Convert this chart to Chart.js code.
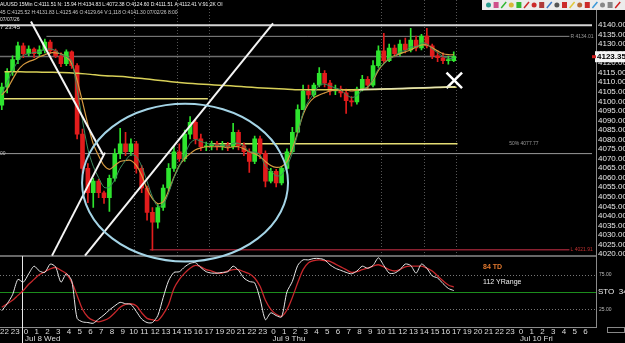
<!DOCTYPE html>
<html>
<head>
<meta charset="utf-8">
<script src="https://cdn.jsdelivr.net/npm/chart.js@4.4.1/dist/chart.umd.min.js"></script>
<style>
  html, body { margin: 0; padding: 0; background: #000; }
  #wrap { position: relative; width: 625px; height: 343px; }
</style>
</head>
<body>
<div id="wrap"><canvas id="myChart" width="625" height="343"></canvas></div>
<script>
// time axis: one slot per trading hour (18:00 is closed), 0 = Jul 8 00:00
const hourLabels = ['22','23','0','1','2','3','4','5','6','7','8','9','10','11','12','13','14','15','16','17','19','20','21','22','23',
    '0','1','2','3','4','5','6','7','8','9','10','11','12','13','14','15','16','17','19','20','21','22','23','0','1','2','3','4','5','6'];
const firstHourSlot = -2;
const dateLabels = ['Jul 8 Wed', 'Jul 9 Thu', 'Jul 10 Fri'];
const dateSlots = [0, 23, 46];
const priceTicks = [4020, 4025, 4030, 4035, 4040, 4045, 4050, 4055, 4060, 4065, 4070, 4075, 4080,
    4085, 4090, 4095, 4100, 4105, 4110, 4115, 4120, 4125, 4130, 4135, 4140];

// candles, one every half hour starting Jul 7 21:45
const firstCandleSlot = -2.25;
const candleStep = 0.5;
const opens = [4098, 4107.5, 4115.6, 4121.8, 4129, 4124.9, 4127.4, 4124.9, 4126.9, 4131, 4126.4, 4123.8, 4119.7, 4125.9, 4118.7,
    4082.8, 4064.9, 4052.1, 4058.2, 4052.1, 4049.5, 4059.7, 4072.6, 4077.7, 4073.6, 4077.7, 4064.9, 4054.6, 4041.8, 4036.7,
    4044.4, 4054.6, 4064.9, 4073.6, 4070, 4082.8, 4089, 4080.3, 4076.2, 4076.7, 4077.7, 4076.2, 4077.2, 4076.2, 4083.8,
    4076.7, 4073.6, 4068.5, 4080.3, 4072.6, 4058.2, 4063.3, 4057.2, 4064.9, 4073.6, 4083.8, 4095.6, 4105.4, 4103.3, 4108.5,
    4114.6, 4109.5, 4105.4, 4106.4, 4104.4, 4100.3, 4099.7, 4106.4, 4111.5, 4108.5, 4118.7, 4126.4, 4121.3, 4127.9, 4124.9,
    4130, 4126.9, 4132, 4128, 4134.1, 4129, 4123.8, 4122.8, 4121.3, 4121.3];
const highs = [4109.5, 4117.2, 4123.8, 4131, 4130.5, 4129, 4128, 4129, 4132.6, 4132, 4127.4, 4125.4, 4126.9, 4126.4, 4119.7,
    4085.4, 4067.4, 4059.7, 4059.2, 4053, 4061.3, 4075.1, 4085.9, 4083.8, 4080.3, 4079, 4066.4, 4055.6, 4044.4, 4045.9,
    4056.2, 4067.4, 4076.7, 4077.7, 4084.9, 4092, 4090, 4082.8, 4078.7, 4079.2, 4079, 4079, 4078.5, 4088.5, 4084.9,
    4078.2, 4075.1, 4081.8, 4081.8, 4074, 4064.9, 4064.4, 4066, 4075.1, 4086.4, 4098.2, 4108.5, 4108.5, 4109.5, 4117.7,
    4116.1, 4111, 4108.5, 4108, 4106.4, 4102.5, 4107.5, 4113.6, 4113, 4121.3, 4129, 4135.6, 4130, 4129.5, 4132,
    4133.1, 4138.2, 4134.1, 4135.1, 4138.2, 4130, 4125.9, 4125.4, 4123.5, 4125.9];
const lows = [4095.6, 4104.4, 4113.6, 4119.7, 4122.8, 4123.8, 4122.8, 4123.8, 4125.4, 4124.9, 4122.8, 4118.2, 4118.7, 4117.2, 4080.3,
    4062.3, 4046.9, 4044.4, 4049.5, 4046.5, 4042.3, 4058.2, 4070, 4071.5, 4071.5, 4062.3, 4052.1, 4037.7, 4022.1, 4033.6,
    4042.8, 4053.1, 4063.3, 4068.5, 4068.5, 4080.3, 4077.7, 4074.1, 4074.1, 4074.6, 4074.6, 4074.6, 4074.1, 4075.1, 4074.6,
    4071.5, 4062.8, 4067.4, 4070, 4055.1, 4057.2, 4055.1, 4056.2, 4064.4, 4072.6, 4083.8, 4095.6, 4101.3, 4102.3, 4107.5,
    4107.5, 4103.3, 4103.5, 4102.3, 4093.6, 4097.5, 4098.5, 4105.4, 4106.5, 4107.5, 4117.7, 4120.3, 4120.8, 4123.3, 4123.8,
    4125.4, 4125.9, 4126.4, 4126.9, 4128, 4122.3, 4120.8, 4119.7, 4119.5, 4120.8];
const closes = [4107.5, 4115.6, 4121.8, 4129, 4124.9, 4127.4, 4124.9, 4126.9, 4131, 4126.4, 4123.8, 4119.7, 4125.9, 4118.7, 4082.8,
    4064.9, 4052.1, 4058.2, 4052.1, 4049.5, 4059.7, 4072.6, 4077.7, 4073.6, 4077.7, 4064.9, 4054.6, 4041.8, 4036.7, 4044.4,
    4054.6, 4064.9, 4073.6, 4070, 4082.8, 4089, 4080.3, 4076.2, 4076.7, 4077.7, 4076.2, 4077.2, 4076.2, 4083.8, 4076.7,
    4073.6, 4068.5, 4080.3, 4072.6, 4058.2, 4063.3, 4057.2, 4064.9, 4073.6, 4083.8, 4095.6, 4105.4, 4103.3, 4108.5, 4114.6,
    4109.5, 4105.4, 4106.4, 4104.4, 4100.3, 4099.7, 4106.4, 4111.5, 4108.5, 4118.7, 4126.4, 4121.3, 4127.9, 4124.9, 4130,
    4126.9, 4132, 4128, 4134.1, 4129, 4123.8, 4122.8, 4121.3, 4121.3, 4123.4];

// moving averages at the candle times
const slowMa = [4103.3, 4106.4, 4111.5, 4116.2, 4119.2, 4120.8, 4121.8, 4123.3, 4124.4, 4125.4, 4125.4, 4124.9, 4123.3, 4119.7, 4111,
    4099.7, 4087.9, 4077.7, 4071.5, 4066.4, 4064.4, 4066.4, 4068.5, 4069, 4069, 4066.4, 4061.3, 4054.1, 4049, 4046.4,
    4047.4, 4053.1, 4060.3, 4066.4, 4070, 4072.6, 4074.6, 4075.6, 4076.2, 4076.2, 4076.2, 4076.2, 4075.6, 4076.2, 4076.2,
    4075.1, 4073.6, 4072.6, 4071, 4068.5, 4066.4, 4065.4, 4065.9, 4068.5, 4075.1, 4083.8, 4093.1, 4098.7, 4101.8, 4103.3,
    4104.4, 4105.4, 4105.9, 4105.9, 4105.9, 4105.4, 4105.9, 4106.4, 4107.4, 4111, 4116.2, 4119.7, 4122.3, 4123.8, 4124.9,
    4125.9, 4126.9, 4128.5, 4129.5, 4129.5, 4128, 4126.4, 4124.9, 4124.4, 4124.4];
const fastMa = [4104, 4110, 4116, 4121, 4124, 4125, 4125.5, 4126, 4127, 4127.5, 4126.5, 4124.5, 4123.5, 4121, 4106,
    4090, 4075, 4066, 4060, 4055, 4055, 4059, 4065, 4069, 4072, 4071, 4066, 4058, 4050, 4045,
    4046, 4052, 4060, 4066, 4072, 4078, 4080, 4079, 4078, 4077.5, 4077, 4077, 4076.5, 4078, 4078,
    4076.5, 4073.5, 4073.5, 4072, 4066, 4063.5, 4061, 4061.5, 4066, 4073, 4083, 4094, 4100, 4104, 4108.5,
    4109, 4108, 4107, 4106, 4103.5, 4102, 4103, 4106, 4107.5, 4111.5, 4117, 4119.5, 4122.5, 4123.5, 4126,
    4126.5, 4128.5, 4128.5, 4130.5, 4130, 4127.5, 4125.5, 4123.5, 4122.5, 4122.5];
// long average, one value per hour slot from slot -2
const longMa = [4115.5, 4115.5, 4115.4, 4115.3, 4115.2, 4115.1, 4115, 4114.6, 4114.1, 4113.5, 4113.2, 4113, 4112.3, 4111.8, 4111.2,
    4110.6, 4110, 4109.5, 4109.1, 4108.8, 4108.4, 4108.1, 4107.7, 4107.3, 4107, 4106.7, 4106.4, 4106.1, 4106, 4106,
    4106, 4106, 4106, 4106.1, 4106.2, 4106.3, 4106.5, 4106.6, 4106.8, 4107, 4107.2, 4107.3, 4107.4];

// stochastic at the candle times
const stochK = [23, 33, 46, 68, 64, 76, 87, 80, 78, 90, 86, 64, 76, 66, 12, 7, 6, 5, 11, 17, 24, 30, 35, 33, 32, 22, 11, 6, 6, 16,
    42, 66, 78, 79, 86, 91, 92, 85, 79, 77, 77, 78, 79, 87, 81, 70, 65, 63, 40, 10, 20, 16, 14, 50, 65, 88, 96, 96, 98, 98,
    96, 89, 84, 81, 78, 76, 80, 87, 84, 88, 99, 88, 77, 77, 82, 90, 88, 77, 90, 84, 73, 70, 62, 55, 52];
const stochD = [28, 33, 38, 45, 52, 61, 68, 75, 79, 83, 85, 81, 76, 64, 45, 25, 14, 9, 7, 9, 13, 20, 28, 32, 33, 30, 20, 12, 10, 9,
    18, 32, 55, 68, 77, 84, 88, 86, 82, 80, 77, 77, 80, 82, 82, 79, 76, 70, 58, 38, 25, 18, 15, 24, 42, 63, 82, 92, 95, 96,
    95, 94, 90, 86, 82, 78, 79, 82, 84, 87, 89, 86, 82, 80, 82, 86, 87, 87, 87, 84, 80, 73, 66, 60, 57];
const stochLevels = [75, 50, 25];

const lastPrice = 4123.35;
const markerPoint = { slot: 39.8, price: 4111 };

// drawings on the chart, in slot / price units
const levelLines = [
    { price: 4139.8, from: -2.42, to: 52.6, color: '#d4d4d4', width: 2 },
    { price: 4134.01, from: 1.9, to: 50.5, color: '#8a8a8a', width: 1, label: 'R 4134.01', labelColor: '#9a9a9a' },
    { price: 4123.5, from: -2.42, to: 40, color: '#6e6e6e', width: 1.5 },
    { price: 4101.3, from: -2.42, to: 16.9, color: '#e4dc74', width: 1.5 },
    { price: 4077.77, from: 17.1, to: 40.1, color: '#e4dc74', width: 1.5, label: '50% 4077.77', labelColor: '#9a9a9a', labelSlot: 44.9 },
    { price: 4072.6, from: -2.42, to: 52.6, color: '#9a9a9a', width: 1 },
    { price: 4022.2, from: 11.5, to: 50.5, color: '#8a2030', width: 1.5, label: 'L 4021.91', labelColor: '#c03030' }
];
const trendLines = [
    [0.46, 4141.8, 7.16, 4072.05],
    [2.42, 4019.2, 7.34, 4073.1],
    [5.48, 4019.2, 22.96, 4140.8]
];
const paleLine = [30.9, 4106.1, 39.9, 4107.6];
const circle = { slot: 14.78, price: 4057.4, rSlot: 9.57, rPrice: 41.3 };
const dottedSlots = [10, 14, 17, 33, 37, 40];

const upColor = '#2ee52e';
const downColor = '#e21c1c';
const FONT = '"Liberation Sans", Arial, sans-serif';

const candleSlot = i => firstCandleSlot + i * candleStep;
const candleColors = closes.map((c, i) => c >= opens[i] ? upColor : downColor);
const onCandles = arr => arr.map((v, i) => ({ x: candleSlot(i), y: v }));

function strokeLine(c, x1, y1, x2, y2) {
    c.beginPath();
    c.moveTo(x1, y1);
    c.lineTo(x2, y2);
    c.stroke();
}

function text(c, str, x, y, font, color, align) {
    c.font = font;
    c.fillStyle = color;
    c.textAlign = align || 'left';
    c.textBaseline = 'middle';
    c.fillText(str, x, y);
}

const overlay = {
    id: 'overlay',
    beforeDatasetsDraw(chart) {
        const c = chart.ctx;
        const xs = chart.scales.x, ys = chart.scales.y, s2 = chart.scales.y2;
        const panelBottom = s2.getPixelForValue(101.5);
        c.save();

        // vertical dotted lines in the price panel
        c.strokeStyle = '#555';
        c.lineWidth = 1;
        c.setLineDash([1, 2]);
        dottedSlots.forEach(s => {
            const px = Math.round(xs.getPixelForValue(s)) + 0.5;
            strokeLine(c, px, 0, px, panelBottom);
        });

        // stochastic levels
        stochLevels.forEach(v => {
            const py = Math.round(s2.getPixelForValue(v)) + 0.5;
            if (v === 50) {
                c.setLineDash([]);
                c.strokeStyle = '#1c8c1c';
            } else {
                c.setLineDash([1, 2]);
                c.strokeStyle = '#777';
            }
            strokeLine(c, 0, py, 596, py);
        });
        c.setLineDash([]);

        // horizontal levels
        levelLines.forEach(l => {
            c.strokeStyle = l.color;
            c.lineWidth = l.width;
            const py = ys.getPixelForValue(l.price);
            strokeLine(c, xs.getPixelForValue(l.from), py, xs.getPixelForValue(l.to), py);
            if (l.label) {
                const lx = xs.getPixelForValue(l.labelSlot !== undefined ? l.labelSlot : l.to + 0.1);
                text(c, l.label, lx, py, '5px ' + FONT, l.labelColor);
            }
        });

        // panel borders
        c.strokeStyle = '#8a8a8a';
        c.lineWidth = 1.5;
        strokeLine(c, 0, panelBottom, 597, panelBottom);
        c.lineWidth = 1;
        strokeLine(c, 596.5, 0, 596.5, 328);
        strokeLine(c, 0, 327.5, 597, 327.5);
        c.strokeStyle = '#e8e8e8';
        const sep = Math.round(xs.getPixelForValue(-0.4)) + 0.5;
        strokeLine(c, sep, panelBottom, sep, 343);
        c.restore();
    },
    afterDatasetsDraw(chart) {
        const c = chart.ctx;
        const xs = chart.scales.x, ys = chart.scales.y, s2 = chart.scales.y2;
        c.save();

        // trend lines
        c.strokeStyle = '#f4f4f4';
        c.lineWidth = 2;
        trendLines.forEach(t => strokeLine(c, xs.getPixelForValue(t[0]), ys.getPixelForValue(t[1]),
            xs.getPixelForValue(t[2]), ys.getPixelForValue(t[3])));
        c.strokeStyle = '#e6e4b4';
        c.lineWidth = 1.5;
        strokeLine(c, xs.getPixelForValue(paleLine[0]), ys.getPixelForValue(paleLine[1]),
            xs.getPixelForValue(paleLine[2]), ys.getPixelForValue(paleLine[3]));

        // ellipse
        const cx = xs.getPixelForValue(circle.slot);
        const cy = ys.getPixelForValue(circle.price);
        const rx = xs.getPixelForValue(circle.slot + circle.rSlot) - cx;
        const ry = cy - ys.getPixelForValue(circle.price + circle.rPrice);
        c.strokeStyle = '#a4d4e6';
        c.lineWidth = 2;
        c.beginPath();
        c.ellipse(cx, cy, rx, ry, 0, 0, Math.PI * 2);
        c.stroke();

        // stochastic panel texts
        const tx = xs.getPixelForValue(42.47);
        text(c, '84 TD', tx, s2.getPixelForValue(85.4), 'bold 7px ' + FONT, '#e2782e');
        text(c, '112 YRange', tx, s2.getPixelForValue(64.3), '7px ' + FONT, '#f0f0f0');
        text(c, '75.00', 599, s2.getPixelForValue(75), '5px ' + FONT, '#bbb');
        text(c, 'STO  34', 598, s2.getPixelForValue(50), '8px ' + FONT, '#f0f0f0');
        text(c, '25.00', 599, s2.getPixelForValue(25), '5px ' + FONT, '#bbb');

        // left cut-off level label
        text(c, '00', 0, ys.getPixelForValue(4072.6), '5px ' + FONT, '#bbb');

        // header
        text(c, 'AUUSD 15Min C:4111.51 N: 15.94 H:4134.83 L:4072.38 O:4124.60 D:4111.51 A:4112.41 V:91.2K OI',
            0, 5, '5px ' + FONT, '#f2f2f2');
        text(c, '45 C:4125.52 H:4131.83 L:4125.46 O:4129.64 V:1,118 O:4141.30 07/02/26 8:00',
            0, 13, '5px ' + FONT, '#c8c8c8');
        text(c, '07/07/26', 0, 20, '5px ' + FONT, '#e0e0e0');
        text(c, '7 23:45', 0, 27, '6px ' + FONT, '#e0e0e0');

        // dates
        dateLabels.forEach((d, k) => {
            text(c, d, xs.getPixelForValue(dateSlots[k]) - 1, 339, '8px ' + FONT, '#dcdcdc');
        });

        // last price tag
        const lp = ys.getPixelForValue(lastPrice);
        c.fillStyle = '#f4f4f4';
        c.fillRect(595, lp - 5.5, 30, 11);
        c.fillStyle = '#d02020';
        c.fillRect(592, lp - 1.5, 4, 3);
        text(c, lastPrice.toFixed(2), 597, lp, 'bold 8px ' + FONT, '#000');

        // toolbar
        c.fillStyle = '#ececec';
        c.fillRect(482, 0, 143, 10);
        const icons = ['#2a9d8f', '#d0508a', '#33b833', '#d8b83a', '#33b833', '#cc2a2a', '#cc2a2a', '#b03a3a', '#3a78c8',
            '#555', '#cc2a2a', '#e0c83a', '#b86a3a', '#cc2a2a', '#3a98d8', '#888', '#888', '#d02020'];
        icons.forEach((col, k) => {
            const ix = 486 + k * 7.6;
            c.fillStyle = col;
            if (k % 3 === 0) {
                c.beginPath();
                c.arc(ix + 2.5, 5, 2.5, 0, Math.PI * 2);
                c.fill();
            } else if (k % 3 === 1) {
                c.fillRect(ix, 2, 5, 6);
            } else {
                c.strokeStyle = col;
                c.lineWidth = 1.5;
                strokeLine(c, ix, 8, ix + 5, 2);
            }
        });
        c.strokeStyle = '#888';
        c.lineWidth = 1;
        c.strokeRect(607.5, 327.5, 17, 5);
        c.restore();
    }
};

const ctx = document.getElementById('myChart').getContext('2d');

new Chart(ctx, {
    type: 'bar',
    data: {
        datasets: [
            {
                type: 'line', label: 'marker', yAxisID: 'y', order: 0,
                data: [{ x: markerPoint.slot, y: markerPoint.price }],
                showLine: false, pointStyle: 'crossRot', pointRadius: 11,
                pointBorderColor: '#ffffff', pointBorderWidth: 2.5, pointBackgroundColor: '#ffffff'
            },
            {
                type: 'line', label: 'fast', yAxisID: 'y', order: 1, data: onCandles(fastMa),
                borderColor: '#3e8c5e', borderWidth: 1, pointRadius: 0, tension: 0.3
            },
            {
                type: 'line', label: 'slow', yAxisID: 'y', order: 1, data: onCandles(slowMa),
                borderColor: '#d69a40', borderWidth: 1.2, pointRadius: 0, tension: 0.3
            },
            {
                type: 'line', label: 'long', yAxisID: 'y', order: 1,
                data: longMa.map((v, k) => ({ x: firstHourSlot + k, y: v })),
                borderColor: '#d8d058', borderWidth: 1.5, pointRadius: 0, tension: 0.3
            },
            {
                type: 'line', label: '%K', yAxisID: 'y2', order: 1, data: onCandles(stochK),
                borderColor: '#e8e8e8', borderWidth: 1, pointRadius: 0, tension: 0.25
            },
            {
                type: 'line', label: '%D', yAxisID: 'y2', order: 1, data: onCandles(stochD),
                borderColor: '#c8282c', borderWidth: 1.3, pointRadius: 0, tension: 0.3
            },
            {
                label: 'bodies', yAxisID: 'y', order: 2, grouped: false,
                data: closes.map((c, i) => ({ x: candleSlot(i), y: [opens[i], c] })),
                backgroundColor: candleColors, barThickness: 4, minBarLength: 1, borderWidth: 0
            },
            {
                label: 'wicks', yAxisID: 'y', order: 3, grouped: false,
                data: closes.map((c, i) => ({ x: candleSlot(i), y: [lows[i], highs[i]] })),
                backgroundColor: candleColors, barThickness: 1, borderWidth: 0
            }
        ]
    },
    options: {
        responsive: false,
        animation: false,
        devicePixelRatio: 1,
        events: [],
        layout: { padding: 0, autoPadding: false },
        plugins: { legend: { display: false }, tooltip: { enabled: false } },
        scales: {
            x: {
                type: 'linear', min: -2.416, max: 52.97, offset: false,
                grid: { display: false, drawTicks: false }, border: { display: false },
                afterBuildTicks: s => { s.ticks = hourLabels.map((l, k) => ({ value: firstHourSlot + k })); },
                afterFit: s => { s.height = 16; },
                ticks: {
                    autoSkip: false, maxRotation: 0, padding: 0, color: '#dcdcdc',
                    font: { size: 8, family: FONT },
                    callback: (v, idx) => hourLabels[idx]
                }
            },
            y: {
                type: 'linear', position: 'right', min: 3981.8, max: 4149.49,
                grid: { display: false, drawTicks: false }, border: { display: false },
                afterBuildTicks: s => { s.ticks = priceTicks.map(v => ({ value: v })); },
                afterFit: s => { s.width = 29; },
                ticks: {
                    autoSkip: false, padding: 2, color: '#e6e6e6',
                    font: { size: 8, family: FONT },
                    callback: v => v.toFixed(2)
                }
            },
            y2: { type: 'linear', display: false, min: -0.4, max: 459.5 }
        }
    },
    plugins: [overlay]
});
</script>
</body>
</html>
